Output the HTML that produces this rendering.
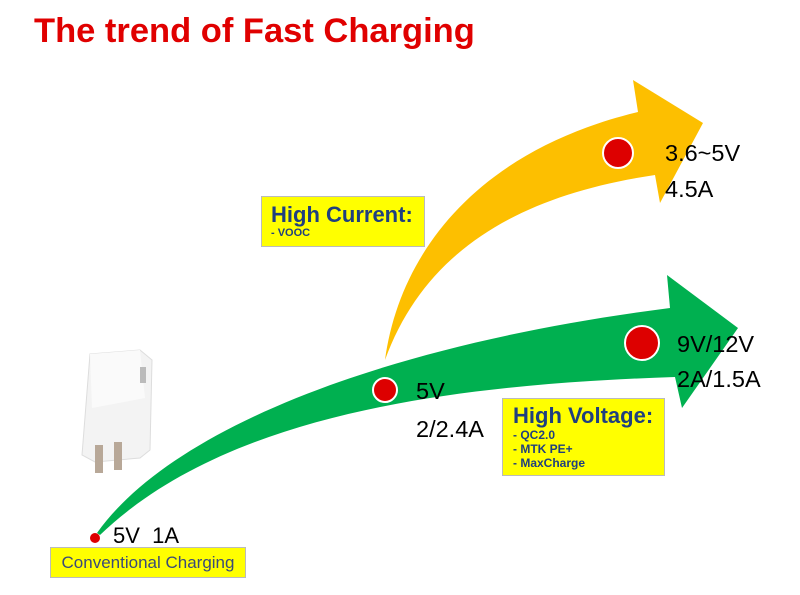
<!DOCTYPE html>
<html><head><style>
body{margin:0;width:800px;height:595px;background:#fff;position:relative;overflow:hidden;font-family:"Liberation Sans",Arial,sans-serif}
.t{position:absolute;white-space:nowrap}
.box{position:absolute;background:#ffff00;border:1px solid #bbb;color:#1f3f7f;font-weight:bold}
</style></head><body>
<div class="t" style="left:34px;top:12px;font-size:34.5px;font-weight:bold;color:#e00000">The trend of Fast Charging</div>
<svg width="800" height="595" style="position:absolute;left:0;top:0">
<path d="M385,360 C400,250 480,150 638,112 L633,80 L703,123 L660,203 L655,175 C520,195 425,250 385,360 Z" fill="#fdbf00"/>
<path d="M97,533 C170,430 380,345 670,308 L667,275 L738,328 L682,408 L675,377 C430,385 220,420 100,535 Z" fill="#00b050"/>
<circle cx="618" cy="153" r="15" fill="#dd0000" stroke="#fff" stroke-width="2"/>
<circle cx="642" cy="343" r="17" fill="#dd0000" stroke="#fff" stroke-width="2"/>
<circle cx="385" cy="390" r="12" fill="#dd0000" stroke="#fff" stroke-width="2"/>
<circle cx="95" cy="538" r="5" fill="#dd0000"/>
<g>
<path d="M90,354 L140,350 L152,360 L150,450 L140,458 L95,462 L82,455 Z" fill="#f3f3f3" stroke="#ddd"/>
<path d="M90,354 L140,350 L145,398 L92,408 Z" fill="#fafafa"/>
<rect x="140" y="367" width="6" height="16" fill="#bbb"/>
<rect x="95" y="445" width="8" height="28" fill="#b8a898"/>
<rect x="114" y="442" width="8" height="28" fill="#b8a898"/>
</g>
</svg>
<div class="t" style="left:665px;top:140px;font-size:23.5px">3.6~5V</div>
<div class="t" style="left:665px;top:176px;font-size:23.5px">4.5A</div>
<div class="t" style="left:677px;top:331px;font-size:23.5px">9V/12V</div>
<div class="t" style="left:677px;top:366px;font-size:23.5px">2A/1.5A</div>
<div class="t" style="left:416px;top:378px;font-size:23.5px">5V</div>
<div class="t" style="left:416px;top:416px;font-size:23.5px">2/2.4A</div>
<div class="t" style="left:113px;top:523px;font-size:22px">5V&nbsp;&nbsp;1A</div>
<div class="box" style="left:261px;top:196px;width:162px;height:49px">
<div style="font-size:22px;margin:6px 0 0 9px;line-height:24px">High Current:</div>
<div style="font-size:11px;margin:0 0 0 9px">- VOOC</div></div>
<div class="box" style="left:502px;top:398px;width:161px;height:76px">
<div style="font-size:22px;margin:4px 0 0 10px;line-height:25px">High Voltage:</div>
<div style="font-size:12px;margin:0 0 0 10px;line-height:14px">- QC2.0<br>- MTK PE+<br>- MaxCharge</div></div>
<div class="box" style="left:50px;top:547px;width:194px;height:29px;font-weight:normal;font-size:17px;line-height:29px;text-align:center;color:#3a4a7a">Conventional Charging</div>
</body></html>
